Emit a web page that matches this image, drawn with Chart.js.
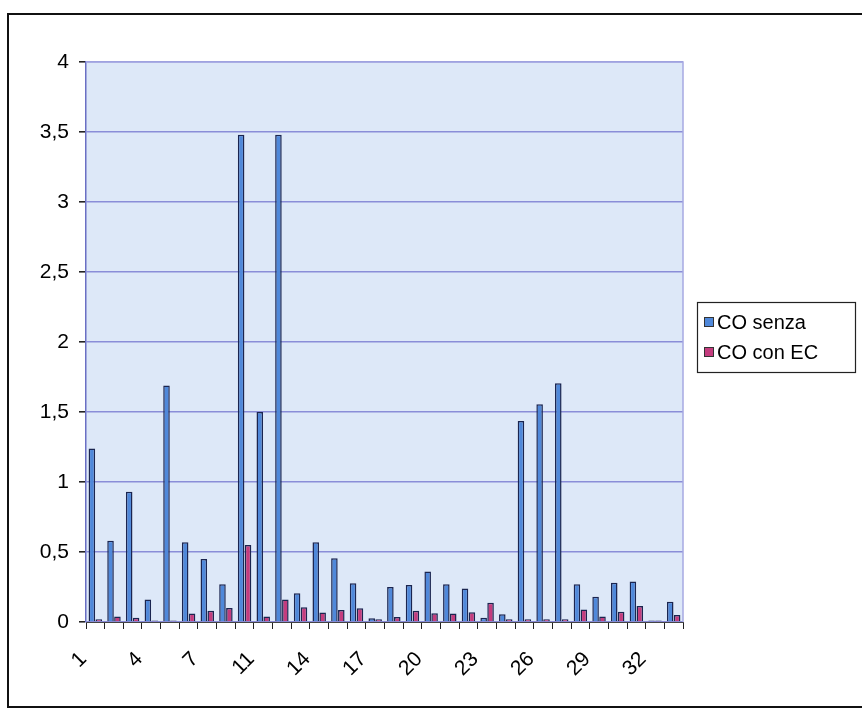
<!DOCTYPE html>
<html>
<head>
<meta charset="utf-8">
<script src="https://cdn.jsdelivr.net/npm/chart.js@4"></script>
<style>
  html, body { margin: 0; padding: 0; background: #fff; }
  canvas { display: block; }
</style>
</head>
<body>
<canvas id="c" width="862" height="711"></canvas>
<script>
// Sample numbers (no sample 10)
const categories = ['1','2','3','4','5','6','7','8','9','11','12','13','14','15','16','17',
  '18','19','20','21','22','23','24','25','26','27','28','29','30','31','32','33'];

// CO without / with EC
const coSenza = [1.24, 0.58, 0.93, 0.16, 1.69, 0.57, 0.45, 0.27, 3.48, 1.50, 3.48, 0.205,
  0.57, 0.455, 0.276, 0.026, 0.25, 0.264, 0.36, 0.27, 0.24, 0.03, 0.055, 1.436,
  1.555, 1.705, 0.27, 0.18, 0.28, 0.29, 0.01, 0.145];
const coConEC = [0.02, 0.04, 0.03, 0.01, 0.01, 0.06, 0.08, 0.10, 0.55, 0.04, 0.16, 0.105,
  0.067, 0.086, 0.098, 0.02, 0.035, 0.08, 0.062, 0.06, 0.07, 0.138, 0.02, 0.02,
  0.02, 0.02, 0.09, 0.04, 0.074, 0.114, 0.01, 0.05];

const seriesNames = ['CO senza', 'CO con EC'];
const yTickLabels = ['0', '0,5', '1', '1,5', '2', '2,5', '3', '3,5', '4'];

const FONT = "'Liberation Sans', Arial, sans-serif";
const blueFill = '#4f88da', redFill = '#c43c7e', barEdge = '#1b2550';

// page background, outer frame and plot-area fill
const frame = {
  id: 'frame',
  beforeDraw(chart) {
    const { ctx, chartArea: a } = chart;
    ctx.save();
    ctx.fillStyle = '#fff';
    ctx.fillRect(0, 0, chart.width, chart.height);
    ctx.strokeStyle = '#111';
    ctx.lineWidth = 2;
    ctx.strokeRect(8, 14, 880, 693);
    ctx.fillStyle = '#dde8f8';
    ctx.fillRect(a.left, a.top, a.right - a.left, a.bottom - a.top);
    ctx.restore();
  },
  afterDatasetsDraw(chart) {
    const { ctx, chartArea: a } = chart;
    ctx.save();
    ctx.strokeStyle = '#a7a9e2';
    ctx.lineWidth = 1.5;
    ctx.beginPath();
    ctx.moveTo(a.left, a.top);
    ctx.lineTo(a.right, a.top);
    ctx.lineTo(a.right, a.bottom);
    ctx.stroke();
    ctx.restore();
  }
};

// boxed legend to the right of the plot
const boxLegend = {
  id: 'boxLegend',
  afterDraw(chart) {
    const { ctx } = chart;
    ctx.save();
    ctx.fillStyle = '#fff';
    ctx.fillRect(697, 302, 159, 71);
    ctx.strokeStyle = '#222';
    ctx.lineWidth = 1.2;
    ctx.strokeRect(697.5, 302.5, 158, 70);
    ctx.font = '20px ' + FONT;
    ctx.textBaseline = 'middle';
    chart.data.datasets.forEach((ds, i) => {
      const y = 322 + i * 30;
      ctx.fillStyle = ds.backgroundColor;
      ctx.fillRect(704, y - 5, 10, 10);
      ctx.strokeStyle = '#333';
      ctx.lineWidth = 1;
      ctx.strokeRect(704.5, y - 4.5, 9, 9);
      ctx.fillStyle = '#000';
      ctx.fillText(ds.label, 717, y + 1);
    });
    ctx.restore();
  }
};

new Chart(document.getElementById('c'), {
  type: 'bar',
  data: {
    labels: categories,
    datasets: [
      { label: seriesNames[0], data: coSenza, backgroundColor: blueFill,
        borderColor: barEdge, borderWidth: 1.5 },
      { label: seriesNames[1], data: coConEC, backgroundColor: redFill,
        borderColor: barEdge, borderWidth: 1.5 }
    ]
  },
  options: {
    responsive: false,
    animation: false,
    devicePixelRatio: 1,
    categoryPercentage: 0.74,
    barPercentage: 0.95,
    layout: { padding: { left: 0, top: 62, right: 179, bottom: 0 } },
    plugins: { legend: { display: false }, tooltip: { enabled: false } },
    scales: {
      x: {
        grid: { offset: true, drawOnChartArea: false, color: '#222', tickLength: 7, lineWidth: 1 },
        border: { color: '#444', width: 1 },
        ticks: {
          autoSkip: false, maxRotation: 45, minRotation: 45, padding: 18, labelOffset: -12,
          color: '#000', font: { family: FONT, size: 21 },
          callback: (v, i) => (i % 3 === 0 ? categories[i] : '')
        },
        afterFit: s => { s.height = 711 - 622; }
      },
      y: {
        min: 0, max: 4,
        ticks: {
          stepSize: 0.5, padding: 10, color: '#000', font: { family: FONT, size: 21 },
          callback: (v, i) => yTickLabels[i]
        },
        grid: { color: '#8a8dd8', lineWidth: 1.6, tickColor: '#222', tickLength: 7 },
        border: { color: '#6a6fc4', width: 1.5 },
        afterFit: s => { s.width = 86; }
      }
    }
  },
  plugins: [frame, boxLegend]
});
</script>
</body>
</html>
